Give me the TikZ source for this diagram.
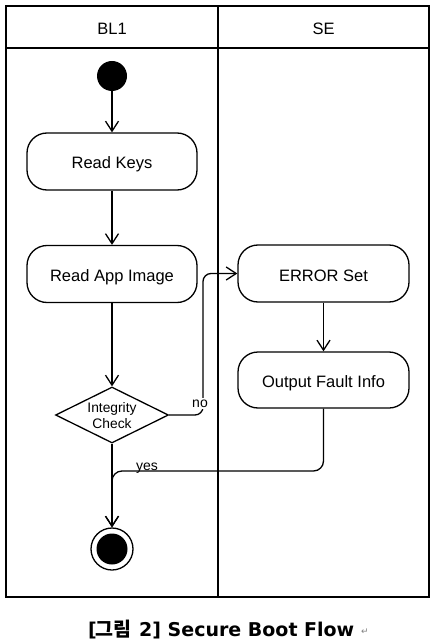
\documentclass[tikz,border=0pt]{standalone}
\usepackage{fontspec}
\setmainfont{Liberation Sans}
\newfontfamily\krfont{Noto Sans CJK KR}
\newfontfamily\dvfont{DejaVu Sans}
\usetikzlibrary{arrows.meta,shapes.geometric}
\tikzset{
  ln/.style={line width=1.3pt, draw=black},
  arr/.style={ln, -{Straight Barb[length=10pt,width=13pt,line width=1.3pt]}},
  actbox/.style={ln, rounded corners=20pt, minimum width=170pt, minimum height=57pt, inner sep=0pt,
     text height=15pt, text depth=0pt, font=\fontsize{16.5}{19.8}\selectfont},
  lanehead/.style={inner sep=0pt, text height=15pt, text depth=0pt, font=\fontsize{16.5}{19.8}\selectfont},
  edgelbl/.style={font=\fontsize{14}{16}\selectfont, inner sep=0pt},
  captxt/.style={inner sep=0pt, anchor=base west, font=\dvfont\bfseries\fontsize{19}{22}\selectfont},
}
\begin{document}
\begin{tikzpicture}[x=1pt,y=-1pt]
\useasboundingbox (0,0) rectangle (437,644);
% swimlanes
\draw[line width=1.5pt] (6,6) rectangle (429,597);
\draw[line width=1.5pt] (6,48) -- (429,48);
\draw[line width=1.5pt] (218,6) -- (218,597);
\node[lanehead] (h1) at (112,27) {BL1};
\node[lanehead] (h2) at (323.5,27) {SE};
% nodes
\node[circle, fill=black, minimum size=30pt, inner sep=0pt] (start) at (112,76) {};
\node[actbox, draw] (rk) at (112,161.5) {Read Keys};
\node[actbox, draw] (ra) at (112,274) {Read App Image};
\node[diamond, ln, draw, minimum width=113pt, minimum height=56pt, inner sep=0pt] (chk) at (112,415) {};
\node[align=center, font=\fontsize{13.8}{16}\selectfont, inner sep=0pt] (chkt) at (112,416) {Integrity\\Check};
\node[actbox, draw, minimum width=171pt] (err) at (323.5,273.5) {ERROR Set};
\node[actbox, draw, minimum width=171pt, minimum height=56pt] (ofi) at (323.5,380) {Output Fault Info};
\node[circle, ln, draw, minimum size=42pt, inner sep=0pt] (end) at (112,549) {};
\fill (end.center) circle (15.5pt);
% connectors
\coordinate (nx) at (203,415);
\coordinate (yb) at (112,471);
\draw[arr] (start) -- (rk);
\draw[arr] (rk) -- (ra);
\draw[arr] (ra) -- (chk);
\draw[arr, rounded corners=8pt] (chk.east) -- (nx) |- (err.west);
\draw[arr] (err) -- (ofi);
\draw[arr] (chk.south) -- (end.north);
\draw[arr, rounded corners=10pt] (ofi.south) |- (yb) -- (end.north);
\node[edgelbl, fill=white, inner sep=1.5pt] (nol) at (200,403.5) {no};
\node[edgelbl] (yesl) at (147,468) {yes};
% caption
\node[captxt] (cap1) at (88,636) {[};
\node[captxt, font=\krfont\bfseries\fontsize{19.5}{22}\selectfont] (cap2) at (95.5,636) {그림};
\node[captxt] (cap3) at (139,636) {2]};
\node[captxt] (cap4) at (167.5,636) {Secure Boot Flow};
\node[inner sep=0pt, anchor=base west, text=gray, font=\dvfont\fontsize{9}{10}\selectfont] (pm) at (361,634) {↵};
\end{tikzpicture}
\end{document}
